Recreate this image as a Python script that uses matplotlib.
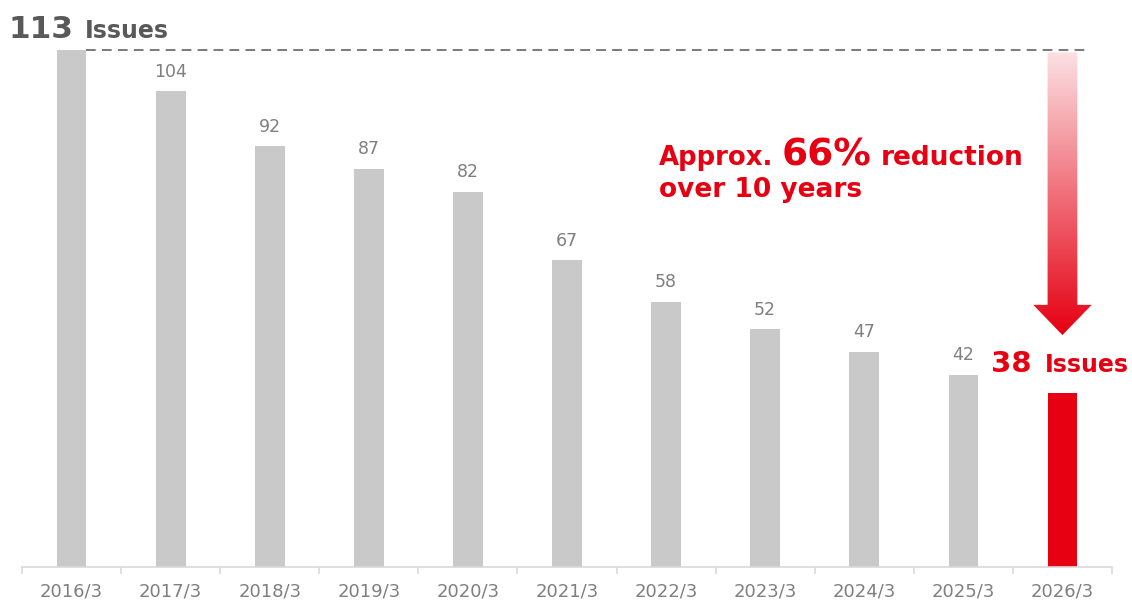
import numpy as np
import matplotlib
matplotlib.use("Agg")
import matplotlib.pyplot as plt
from matplotlib.patches import Polygon
from matplotlib.transforms import IdentityTransform

# data
years = ["2016/3", "2017/3", "2018/3", "2019/3", "2020/3", "2021/3",
         "2022/3", "2023/3", "2024/3", "2025/3", "2026/3"]
issues = [113, 104, 92, 87, 82, 67, 58, 52, 47, 42, 38]

GREY = "#c9c9c9"
RED = "#e60012"
TXT = "#7f7f7f"
DARK = "#595959"

plt.rcParams["font.family"] = ["DejaVu Sans"]

fig = plt.figure(figsize=(11.32, 6.01), dpi=100)
ax = fig.add_axes([22 / 1132, 34 / 601, 1090 / 1132, 567 / 601])
ax.set_xlim(-0.5, len(years) - 0.5)
ax.set_ylim(0, 567 / 4.575)

x = np.arange(len(years))
colors = [GREY] * (len(years) - 1) + [RED]
ax.bar(x, issues, width=0.30, color=colors, zorder=2)

# value labels for the middle years
for i in range(1, len(years) - 1):
    ax.annotate(str(issues[i]), (x[i], issues[i]), xytext=(0, 10.5),
                textcoords="offset points", ha="center", va="baseline",
                fontsize=12.5, color=TXT)

# dashed reference line at the first value
ax.plot([x[0] + 0.15, 10.28], [issues[0], issues[0]], color="#7a7a7a",
        lw=1.4, dashes=(5, 3.2), zorder=1)

# gradient arrow from first value down to the last bar
xa = x[-1]
top = issues[0] - 0.5
head_y = issues[-1] + 19.3
tip_y = issues[-1] + 12.7
sw, hw = 0.15, 0.295
pts = [(xa - sw, top), (xa + sw, top), (xa + sw, head_y), (xa + hw, head_y),
       (xa, tip_y), (xa - hw, head_y), (xa - sw, head_y)]
poly = Polygon(pts, closed=True, facecolor="none", edgecolor="none")
ax.add_patch(poly)
c_top = np.array([0.985, 0.88, 0.89])
c_bot = np.array([0.90, 0.0, 0.07])
t = np.linspace(0, 1, 256)[:, None]
grad = (c_top * (1 - t) + c_bot * t)[:, None, :]
im = ax.imshow(grad, extent=(xa - hw, xa + hw, tip_y, top), aspect="auto",
               origin="upper", zorder=3, interpolation="bilinear")
im.set_clip_path(poly)

# axis styling
for s in ("left", "top", "right"):
    ax.spines[s].set_visible(False)
ax.spines["bottom"].set_color("#d9d9d9")
ax.spines["bottom"].set_linewidth(1.2)
ax.set_yticks([])
ax.set_xticks(x)
ax.set_xticklabels(years, fontsize=13, color=TXT)
ax.tick_params(axis="x", which="major", length=0, pad=11)
ax.set_xticks(np.arange(-0.5, len(years)), minor=True)
ax.tick_params(axis="x", which="minor", length=5, color="#d9d9d9", width=1.2)

fig.canvas.draw()
renderer = fig.canvas.get_renderer()


def chain(xd, yd, parts, color):
    # place text pieces one after another on a shared baseline, gap in px
    px, py = ax.transData.transform((xd, yd))
    for s, size, gap in parts:
        tt = fig.text(px + gap, py, s, transform=IdentityTransform(),
                      fontsize=size, fontweight="bold", color=color,
                      ha="left", va="baseline")
        px = tt.get_window_extent(renderer).x1


def dx(p):
    return (p - 22) / (1090 / len(years)) - 0.5


def dy(p):
    return (567 - p) / 4.575


chain(dx(8), dy(38), [("113", 22.5, 0), ("Issues", 17, 12)], DARK)
chain(dx(991), dy(372), [("38", 21, 0), ("Issues", 17, 13)], RED)
chain(dx(659), dy(165), [("Approx.", 18.7, 0), ("66%", 27, 8),
                         ("reduction", 19, 10)], RED)
chain(dx(659), dy(197), [("over 10 years", 19, 0)], RED)

fig.savefig("out.png", dpi=100, facecolor="white")
